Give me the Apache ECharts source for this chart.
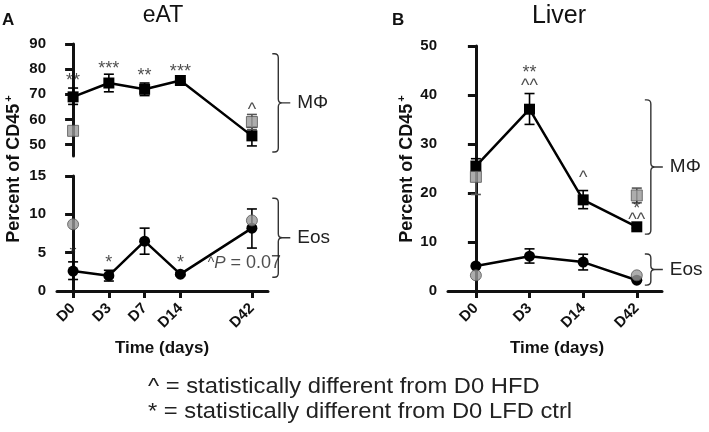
<!DOCTYPE html>
<html><head><meta charset="utf-8">
<script src="https://cdn.jsdelivr.net/npm/echarts@6/dist/echarts.min.js"></script>
<style>html,body{margin:0;padding:0;background:#fff}#c{width:709px;height:432px}</style>
</head><body><div id="c"></div>
<script>
// ---------- Panel A (eAT) ----------
const catA = ['D0', 'D3', 'D7', 'D14', 'D42'];
const posA = [0, 1, 2, 3, 5];
const macA = [69, 74.5, 72, 75.5, 53.5];
const macALow = [66, 71, 69.5, 75, 49.5];
const macAHigh = [72.5, 78, 74.5, 76, 57];
const macACtrlPos = [0, 5];
const macACtrl = [55.5, 59];
const macACtrlLow = [null, 56];
const macACtrlHigh = [null, 62];
const eosA = [2.6, 2.0, 6.5, 2.2, 8.2];
const eosALow = [1.5, 1.3, 4.8, 2.0, 5.6];
const eosAHigh = [3.8, 2.7, 8.2, 2.4, 10.7];
const eosACtrlPos = [0, 5];
const eosACtrl = [8.7, 9.2];
const ticksATop = [50, 60, 70, 80, 90];
// annotations [x, y, text]
const annATop = [[0, 75.2, '**'], [1, 80.0, '***'], [2, 77.2, '**'], [3, 78.8, '***'], [5, 63.8, '^']];
const annABot = [[0, 4.76, '*'], [1, 3.7, '*'], [3, 3.7, '*'], [4.79, 3.65, '{c|^}{i|P} = 0.07']];
const bracketATop = [[5.57, 86.1, 47.1, 'MΦ']];
const bracketABot = [[5.57, 12.1, 1.8, 'Eos']];

// ---------- Panel B (Liver) ----------
const catB = ['D0', 'D3', 'D14', 'D42'];
const posB = [0, 1, 2, 3];
const macB = [25.5, 37.1, 18.6, 13.1];
const macBLow = [24.5, 34, 16.8, 12.8];
const macBHigh = [27, 40.3, 20.5, 13.4];
const macBCtrlPos = [0, 3];
const macBCtrl = [23.3, 19.5];
const macBCtrlLow = [19.7, 18];
const macBCtrlHigh = [24.5, 21];
const eosB = [5.1, 7.1, 5.9, 2.2];
const eosBLow = [5.0, 5.7, 4.3, 2.1];
const eosBHigh = [5.2, 8.6, 7.5, 2.3];
const eosBCtrlPos = [0, 3];
const eosBCtrl = [3.2, 3.2];
const annB = [[1, 44.4, '**'], [1, 41.9, '^^'], [2, 23.0, '^'], [3, 16.8, '*'], [3, 14.4, '^^']];
const bracketB = [[3.15, 39.0, 11.6, 'MΦ'], [3.15, 7.55, 1.2, 'Eos']];

const FONT = '"Liberation Sans", Arial, Helvetica, sans-serif';
const INK = '#111';
const GRAY = '#999';

function pts(xs, ys) { return xs.map((x, i) => [x, ys[i]]); }
function errs(xs, lo, hi) { return xs.map((x, i) => [x, lo[i], hi[i]]).filter(d => d[1] != null); }

function errSeries(idx, data, color) {
  return {
    type: 'custom', xAxisIndex: idx, yAxisIndex: idx, z: 3, silent: true,
    data: data,
    renderItem: function (params, api) {
      const lo = api.coord([api.value(0), api.value(1)]);
      const hi = api.coord([api.value(0), api.value(2)]);
      const w = 5;
      return {
        type: 'group', children: [
          { type: 'line', shape: { x1: lo[0], y1: lo[1], x2: hi[0], y2: hi[1] }, style: { stroke: color, lineWidth: 1.6 } },
          { type: 'line', shape: { x1: lo[0] - w, y1: lo[1], x2: lo[0] + w, y2: lo[1] }, style: { stroke: color, lineWidth: 1.6 } },
          { type: 'line', shape: { x1: hi[0] - w, y1: hi[1], x2: hi[0] + w, y2: hi[1] }, style: { stroke: color, lineWidth: 1.6 } }
        ]
      };
    }
  };
}

function bracketSeries(idx, data) {
  return {
    type: 'custom', xAxisIndex: idx, yAxisIndex: idx, clip: false, silent: true,
    data: data,
    renderItem: function (params, api) {
      const d = data[params.dataIndex];
      const t = api.coord([d[0], d[1]]);
      const b = api.coord([d[0], d[2]]);
      const x0 = t[0], y0 = t[1], y1 = b[1];
      const x1 = x0 + 6, r = 4, ym = (y0 + y1) / 2, tip = 12;
      const p = `M${x0} ${y0} L${x1 - r} ${y0} Q${x1} ${y0} ${x1} ${y0 + r} L${x1} ${ym - r} Q${x1} ${ym} ${x1 + r} ${ym} L${x1 + tip} ${ym} M${x1 + r} ${ym} Q${x1} ${ym} ${x1} ${ym + r} L${x1} ${y1 - r} Q${x1} ${y1} ${x1 - r} ${y1} L${x0} ${y1}`;
      return {
        type: 'group', children: [
          { type: 'path', shape: { pathData: p }, style: { stroke: '#333', fill: null, lineWidth: 1.4 } },
          { type: 'text', x: x1 + tip + 7, y: ym, style: { text: d[3], fill: '#222', font: '19px ' + FONT, verticalAlign: 'middle', align: 'left' } }
        ]
      };
    }
  };
}

function annSeries(idx, data) {
  return {
    type: 'scatter', xAxisIndex: idx, yAxisIndex: idx, symbolSize: 1, silent: true, z: 6,
    itemStyle: { color: 'rgba(0,0,0,0)' },
    data: data,
    label: {
      show: true, position: 'inside', color: '#222', fontFamily: FONT, fontSize: 18,
      formatter: p => p.data[2],
      rich: {
        i: { fontStyle: 'italic', fontFamily: FONT, fontSize: 17, color: '#222' },
        c: { fontFamily: FONT, fontSize: 14, color: '#222' }
      }
    }
  };
}

const yLabel = { color: INK, fontFamily: FONT, fontWeight: 'bold', fontSize: 15, margin: 11 };
const yTick = { show: true, length: 8, lineStyle: { color: INK, width: 3 } };

function yAx(idx, min, max, opts) {
  return Object.assign({
    type: 'value', gridIndex: idx, min: min, max: max,
    axisLine: { show: true, lineStyle: { color: INK, width: 3 } },
    axisTick: yTick,
    axisLabel: yLabel,
    splitLine: { show: false }
  }, opts || {});
}

function xAx(idx, min, max, positions, cats, show) {
  return {
    type: 'value', gridIndex: idx, min: min, max: max, show: show,
    axisLine: { show: true, onZero: false, lineStyle: { color: INK, width: 3 } },
    axisTick: { show: true, length: 7, customValues: positions, lineStyle: { color: INK, width: 3 } },
    axisLabel: {
      color: INK, fontFamily: FONT, fontWeight: 'bold', fontSize: 15, rotate: 45, margin: 15,
      customValues: positions,
      formatter: v => { const i = positions.indexOf(v); return i >= 0 ? cats[i] : ''; }
    },
    splitLine: { show: false }
  };
}

const sqBlack = { symbol: 'rect', symbolSize: 11, itemStyle: { color: '#000' } };
const sqGray = { symbol: 'rect', symbolSize: 11, itemStyle: { color: GRAY, borderColor: '#555', borderWidth: 1 } };
const ciBlack = { symbol: 'circle', symbolSize: 11, itemStyle: { color: '#000' } };
const ciGray = { symbol: 'circle', symbolSize: 11, itemStyle: { color: GRAY, borderColor: '#555', borderWidth: 1 } };

function lineS(idx, data, sym) {
  return Object.assign({ type: 'line', xAxisIndex: idx, yAxisIndex: idx, data: data, z: 4, silent: true,
    lineStyle: { color: '#000', width: 2.5 }, showSymbol: true }, sym);
}
function scatS(idx, data, sym) {
  return Object.assign({ type: 'scatter', xAxisIndex: idx, yAxisIndex: idx, data: data, z: 5, silent: true }, sym);
}

const yTitleRich = { s: { font: 'bold 11px ' + FONT, fill: INK, verticalAlign: 'top', padding: [0, 0, 10, 2] } };

const chart = echarts.init(document.getElementById('c'), null, { renderer: 'canvas' });
chart.setOption({
  animation: false,
  backgroundColor: '#fff',
  grid: [
    { left: 57, right: 441, top: 44, height: 112 },
    { left: 57, right: 441, top: 176, height: 115 },
    { left: 448, right: 47, top: 46, height: 245 }
  ],
  xAxis: [
    xAx(0, -0.45, 5.45, posA, catA, false),
    xAx(1, -0.45, 5.45, posA, catA, true),
    xAx(2, -0.52, 3.47, posB, catB, true)
  ],
  yAxis: [
    yAx(0, 45.5, 90, { axisLabel: Object.assign({ customValues: ticksATop }, yLabel),
      axisTick: Object.assign({ customValues: ticksATop }, yTick) }),
    yAx(1, 0, 15, { interval: 5 }),
    yAx(2, 0, 50, { interval: 10 })
  ],
  graphic: [
    { type: 'text', x: 2, y: 20, style: { text: 'A', font: 'bold 17px ' + FONT, fill: INK, verticalAlign: 'middle' } },
    { type: 'text', x: 163, y: 16, style: { text: 'eAT', font: '23px ' + FONT, fill: INK, align: 'center', verticalAlign: 'middle' } },
    { type: 'text', x: 392, y: 20, style: { text: 'B', font: 'bold 17px ' + FONT, fill: INK, verticalAlign: 'middle' } },
    { type: 'text', x: 559, y: 16, style: { text: 'Liver', font: '25px ' + FONT, fill: INK, align: 'center', verticalAlign: 'middle' } },
    { type: 'text', x: 14, y: 169, rotation: Math.PI / 2,
      style: { text: 'Percent of CD45{s|+}', font: 'bold 18px ' + FONT, fill: INK, align: 'center', verticalAlign: 'middle', rich: yTitleRich } },
    { type: 'text', x: 407, y: 169, rotation: Math.PI / 2,
      style: { text: 'Percent of CD45{s|+}', font: 'bold 18px ' + FONT, fill: INK, align: 'center', verticalAlign: 'middle', rich: yTitleRich } },
    { type: 'text', x: 162, y: 348, style: { text: 'Time (days)', font: 'bold 17px ' + FONT, fill: INK, align: 'center', verticalAlign: 'middle' } },
    { type: 'text', x: 557, y: 348, style: { text: 'Time (days)', font: 'bold 17px ' + FONT, fill: INK, align: 'center', verticalAlign: 'middle' } },
    { type: 'text', x: 148, y: 387, scaleX: 1.08, style: { text: '^ = statistically different from D0 HFD', font: '22px ' + FONT, fill: '#222', verticalAlign: 'middle' } },
    { type: 'text', x: 148, y: 412, scaleX: 1.08, style: { text: '* = statistically different from D0 LFD ctrl', font: '22px ' + FONT, fill: '#222', verticalAlign: 'middle' } }
  ],
  series: [
    // Panel A top (MΦ)
    errSeries(0, errs(posA, macALow, macAHigh), '#000'),
    lineS(0, pts(posA, macA), sqBlack),
    errSeries(0, errs(macACtrlPos, macACtrlLow, macACtrlHigh), '#555'),
    scatS(0, pts(macACtrlPos, macACtrl), sqGray),
    annSeries(0, annATop),
    bracketSeries(0, bracketATop),
    // Panel A bottom (Eos)
    errSeries(1, errs(posA, eosALow, eosAHigh), '#000'),
    lineS(1, pts(posA, eosA), ciBlack),
    scatS(1, pts(eosACtrlPos, eosACtrl), ciGray),
    annSeries(1, annABot),
    bracketSeries(1, bracketABot),
    // Panel B
    errSeries(2, errs(posB, macBLow, macBHigh), '#000'),
    lineS(2, pts(posB, macB), sqBlack),
    errSeries(2, errs(macBCtrlPos, macBCtrlLow, macBCtrlHigh), '#555'),
    scatS(2, pts(macBCtrlPos, macBCtrl), sqGray),
    errSeries(2, errs(posB, eosBLow, eosBHigh), '#000'),
    lineS(2, pts(posB, eosB), ciBlack),
    scatS(2, pts(eosBCtrlPos, eosBCtrl), ciGray),
    annSeries(2, annB),
    bracketSeries(2, bracketB)
  ]
});
</script></body></html>
